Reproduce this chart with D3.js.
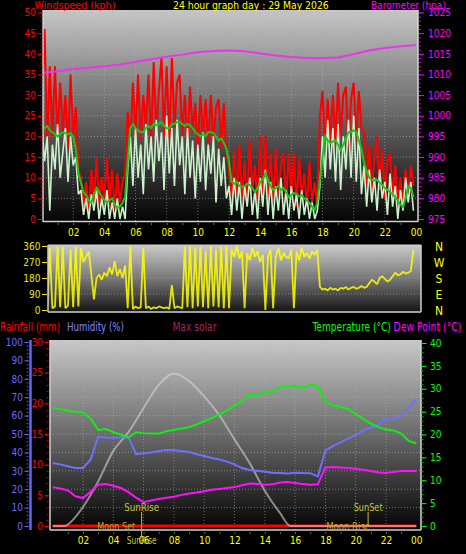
<!DOCTYPE html>
<html><head><meta charset="utf-8">
<script src="https://cdn.jsdelivr.net/npm/d3@7"></script>
<style>
html,body{margin:0;padding:0;background:#000;}
svg{display:block;}
</style></head><body>
<script>
// ---------------- DATA ----------------
const hourTicks = [2,4,6,8,10,12,14,16,18,20,22,24];
// wind samples every 10 minutes (144 samples)
const windGust = [30,46,18,37,20,37,19,33,21,30,17,35,20,27,12,
 10,3,9,2,12,4,15,3,10,5,15,3,12,2,11,4,9,11,
 26,18,33,20,35,19,30,22,35,18,38,21,31,39,20,37,19,39,22,33,35,20,30,18,32,21,28,17,30,20,29,18,30,19,27,29,17,28,16,
 12,4,17,6,18,5,14,4,19,7,13,3,20,6,20,5,16,4,17,6,13,16,4,16,5,16,3,15,5,11,3,14,4,9,3,
 25,31,17,29,19,30,18,33,20,30,32,17,29,33,19,31,22,
 21,8,18,6,15,20,7,17,5,14,16,5,13,4,10,3,12,6,13,8];
const windSpeed = [22,14,20,2,18,12,23,10,16,22,9,20,13,15,6,
 7,1,5,0,6,2,7,0,5,1,7,0,4,0,5,0,3,0,
 12,20,8,22,10,18,6,23,12,20,9,24,14,21,7,25,11,22,8,24,13,20,6,22,10,19,5,18,9,21,7,18,11,20,4,17,8,15,5,
 8,1,10,2,9,0,8,3,10,1,7,0,10,3,12,1,9,0,8,2,10,1,7,0,8,2,6,0,7,1,5,0,4,0,2,
 8,20,10,24,12,22,9,23,7,20,12,24,10,25,9,22,6,
 13,3,12,4,10,2,12,5,9,1,11,3,8,0,7,2,10,4,9,2];
const windAvg = [22.7,22,22.5,21.5,21,20.5,20,20.5,21,20.8,20.5,20.8,20,17,11,
 8.7,6.5,5.8,4.5,3.9,6,7.5,6.5,5.5,4.5,4,4.5,5,3.5,2.6,3,3.9,5.3,
 14,22,23,22,21.5,21,21,22,22.5,22,23,22.7,23,23.5,22.5,22,22,23,23,23.5,23.5,23,22.5,23,22.7,22,21,20.5,20,20.5,20,21,21,20.8,20,19,19.5,18.5,17,
 14,9,8.5,9,8,7.8,8,8.5,8.2,7.5,6.5,7.5,9,9.5,11,9.5,8,7,7.5,8,7,7.5,6.5,5.3,5.8,6.3,6,5.5,5.8,5,4.5,3.9,3,2.2,4,
 9.4,15,20,19,18.4,18.8,19,18,16.7,18,19.5,21,21,21.5,21,19,17,
 13.6,11.5,10,9.5,9.4,9.5,8.8,8.2,7.5,7,6.5,6,5.3,4.5,3.5,2.9,5,7.8,7.5,5.3];
const windDir = [20,355,15,350,10,20,358,15,355,10,25,340,15,355,20,
 350,270,300,330,200,60,180,200,170,210,190,240,200,275,190,230,180,250,
 10,358,5,20,10,15,350,10,20,5,15,10,20,15,10,15,5,140,10,20,15,10,355,15,360,10,350,20,355,15,330,10,360,20,340,15,355,10,360,
 10,340,300,360,290,330,10,320,280,350,300,330,270,310,0,300,340,10,300,350,280,320,300,290,340,10,330,280,350,300,320,290,330,310,340,
 130,115,120,110,125,115,120,110,125,120,130,115,125,130,120,125,135,
 125,130,150,170,160,145,180,190,175,160,170,190,210,195,200,215,205,210,220,340];
const baroHours = [0,1,2,3,4,5,6,7,8,9,10,11,12,13,14,15,16,17,18,19,20,21,22,23,24];
const baroValues = [1010.4,1010.8,1011.3,1011.6,1012.0,1012.4,1013.0,1013.7,1014.3,1014.8,1015.4,1015.7,1015.8,1015.6,1015.1,1014.6,1014.2,1014.0,1013.9,1014.1,1014.9,1015.8,1016.4,1016.8,1017.1];
// half-hourly samples 00:00 .. 24:00 (49 samples)
const temperature = [25.8,25.6,25.2,25.0,24.8,23.5,21.0,21.2,20.5,20.0,19.3,20.5,20.3,20.2,20.2,20.7,21.0,21.3,21.6,22.2,22.9,23.6,24.4,25.2,26.3,27.3,28.8,28.5,29.4,29.3,30.5,30.4,30.7,30.2,30.8,30.6,27.2,26.4,26.0,25.6,24.5,23.4,22.4,21.6,21.1,20.9,20.2,18.6,18.1];
const dewPoint = [8.5,8.2,7.8,6.5,6.1,7.5,9.0,9.2,8.8,8.3,7.4,6.2,5.2,5.6,5.9,6.2,6.4,6.8,7.1,7.3,7.6,7.9,8.1,8.3,8.5,8.9,9.3,9.2,9.0,9.1,9.5,9.6,9.4,9.2,9.0,9.1,12.8,12.9,12.8,12.7,12.5,12.3,12.0,11.7,11.6,11.8,12.0,12.0,12.0];
const humidity = [34.2,33.5,32.5,31.5,31.5,36,48.5,48,48,48.2,48.4,39,39.5,40,40.8,41.3,41.2,40.8,40.2,39,38,37,36.2,35,33.5,31.5,30.4,30,29.5,29,28.8,28.5,29,28.8,28.7,27,41,43.5,45.5,47.5,49.5,52,53.5,55,58.5,58,60,64,69];
const rainHours = [0,24];
const rainfall = [0,0];
const solarHours = [0,0.8,1,2,3,4,5,6,7,8,9,10,11,12,13,14,15,15.7,24];
const maxSolar = [0,0,10,124,290,490,612,770,920,995,945,845,722,565,410,230,85,0,0];
const events = [
  {label:"SunRise", hour:5.87, row:"sun"},
  {label:"SunSet", hour:20.82, row:"sun"},
  {label:"Moon Set", hour:4.2, row:"moon"},
  {label:"Moon Rise", hour:19.5, row:"moon"}
];
const dirLetters = ["N","W","S","E","N"];

// ---------------- SETUP ----------------
const FONT = '"Liberation Sans Narrow","DejaVu Sans Condensed","Liberation Sans",sans-serif';
const svg = d3.select("body").append("svg").attr("width",466).attr("height",554)
  .style("background","#000").attr("font-family",FONT);
const defs = svg.append("defs");
function grad(id,y1,y2,stops){
  const g = defs.append("linearGradient").attr("id",id).attr("gradientUnits","userSpaceOnUse")
    .attr("x1",0).attr("x2",0).attr("y1",y1).attr("y2",y2);
  stops.forEach(s=>g.append("stop").attr("offset",s[0]).attr("stop-color",s[1]));
}
function clip(id,x,y,w,h){ defs.append("clipPath").attr("id",id).append("rect").attr("x",x).attr("y",y).attr("width",w).attr("height",h); }
function styleAxis(g,color,size){
  g.attr("font-family",FONT).attr("font-size",size);
  g.select(".domain").remove();
  g.selectAll("line").attr("stroke",color);
  g.selectAll("text").attr("fill",color);
  return g;
}
// text squeezed horizontally so that its width equals the target width
function label(txt,x,y,color,width,size,anchor){
  const t = svg.append("text").attr("x",0).attr("y",0).attr("fill",color).attr("font-size",size)
    .attr("text-anchor",anchor||"start").text(txt);
  const w = t.node().getComputedTextLength();
  const sx = (width && w>0) ? width/w : 1;
  t.attr("transform",`translate(${x},${y}) scale(${sx},1)`);
  return t;
}
const dotted = {stroke:"#b4b4b4", dash:"1,2", op:0.55};
const fmtInt = d3.format("d");

// ================= CHART 1 : wind + barometer =================
const P1 = {l:43,r:418,t:10,b:221};
grad("g1",P1.t,P1.b,[[0,"#c6c6c6"],[0.5,"#666"],[1,"#050505"]]);
clip("c1",P1.l,P1.t,P1.r-P1.l,P1.b-P1.t);
const x1 = d3.scaleLinear().domain([0,24]).range([42,416]);
const yW = d3.scaleLinear().domain([0,50]).range([219,12.5]);
const yB = d3.scaleLinear().domain([975,1025]).range([219,12.5]);

svg.append("rect").attr("x",P1.l).attr("y",P1.t).attr("width",P1.r-P1.l).attr("height",P1.b-P1.t).attr("fill","url(#g1)");
const g1 = svg.append("g");
g1.selectAll(".hg").data(d3.range(5,51,5)).join("line")
  .attr("x1",P1.l).attr("x2",P1.r).attr("y1",d=>yW(d)).attr("y2",d=>yW(d))
  .attr("stroke",dotted.stroke).attr("stroke-dasharray",dotted.dash).attr("opacity",dotted.op);
g1.selectAll(".vg").data(hourTicks.slice(0,11)).join("line")
  .attr("x1",d=>x1(d)).attr("x2",d=>x1(d)).attr("y1",P1.t).attr("y2",P1.b)
  .attr("stroke",dotted.stroke).attr("stroke-dasharray",dotted.dash).attr("opacity",dotted.op);

const d1 = svg.append("g").attr("clip-path","url(#c1)");
const lineW = arr => d3.line().x((d,i)=>x1(i/6)).y(d=>yW(d))(arr);
d1.append("path").attr("d",lineW(windGust)).attr("fill","none").attr("stroke","#ff0000").attr("stroke-width",2).attr("stroke-linejoin","bevel");
d1.append("path").attr("d",lineW(windSpeed)).attr("fill","none").attr("stroke","#ccf2cc").attr("stroke-width",1.6).attr("stroke-linejoin","bevel");
d1.append("path").attr("d",lineW(windAvg)).attr("fill","none").attr("stroke","#18c818").attr("stroke-width",2);
d1.append("path").attr("d",d3.line().x((d,i)=>x1(baroHours[i])).y(d=>yB(d))(baroValues))
  .attr("fill","none").attr("stroke","#ee33ee").attr("stroke-width",2);

// borders
svg.append("line").attr("x1",P1.l).attr("x2",P1.l).attr("y1",P1.t).attr("y2",P1.b+1).attr("stroke","#d0d0d0").attr("stroke-width",1.5);
svg.append("line").attr("x1",P1.r).attr("x2",P1.r).attr("y1",P1.t).attr("y2",P1.b+1).attr("stroke","#d8d8d8").attr("stroke-width",1.5);
svg.append("line").attr("x1",P1.l).attr("x2",P1.r).attr("y1",P1.b+0.5).attr("y2",P1.b+0.5).attr("stroke","#d0d0d0").attr("stroke-width",1.5);

// axes
styleAxis(svg.append("g").attr("transform","translate(42.5,0)")
  .call(d3.axisLeft(yW).tickValues(d3.range(0,51,1)).tickSize(2).tickFormat("")),"#c00000",9);
styleAxis(svg.append("g").attr("transform","translate(42.5,0)")
  .call(d3.axisLeft(yW).tickValues(d3.range(0,51,5)).tickSize(5).tickPadding(1.5).tickFormat(fmtInt)),"#ff0000",10);
styleAxis(svg.append("g").attr("transform","translate(419,0)")
  .call(d3.axisRight(yB).tickValues(d3.range(975,1026,1)).tickSize(2).tickFormat("")),"#c000c0",9);
const rAx = styleAxis(svg.append("g").attr("transform","translate(419,0)")
  .call(d3.axisRight(yB).tickValues(d3.range(975,1026,5)).tickSize(5).tickPadding(4).tickFormat(fmtInt)),"#ff00ff",10);
styleAxis(svg.append("g").attr("transform","translate(0,223)")
  .call(d3.axisBottom(x1).tickValues(d3.range(1,24,1)).tickSize(2).tickFormat("")),"#6a6a40",9);
const hx1 = styleAxis(svg.append("g").attr("transform","translate(0,222)")
  .call(d3.axisBottom(x1).tickValues(hourTicks).tickSize(0).tickFormat(d=>d3.format("02")(d%24))),"#ffff00",10);
hx1.selectAll("text").attr("y",13.5).attr("dy",0);

// titles
label("Windspeed (kph)",34.5,9,"#ff0000",81,11);
label("24 hour graph day : 29 May 2026",173,9,"#ffff00",156,11);
label("Barometer (hpa)",371,9,"#ff00ff",75,11);

// ================= CHART 2 : wind direction =================
const P2 = {l:48,r:421,t:245,b:312};
grad("g2",P2.t,P2.b,[[0,"#cacaca"],[0.5,"#777"],[1,"#151515"]]);
clip("c2",P2.l,P2.t,P2.r-P2.l,P2.b-P2.t);
const yD = d3.scaleLinear().domain([0,360]).range([310,246]);
svg.append("rect").attr("x",P2.l).attr("y",P2.t).attr("width",P2.r-P2.l).attr("height",P2.b-P2.t).attr("fill","url(#g2)");
svg.append("g").selectAll("line").data([90,180,270]).join("line")
  .attr("x1",P2.l).attr("x2",P2.r).attr("y1",d=>yD(d)).attr("y2",d=>yD(d))
  .attr("stroke",dotted.stroke).attr("stroke-dasharray",dotted.dash).attr("opacity",dotted.op);
svg.append("g").attr("clip-path","url(#c2)").append("path")
  .attr("d",d3.line().x((d,i)=>x1(i/6)).y(d=>yD(d))(windDir))
  .attr("fill","none").attr("stroke","#ffff00").attr("stroke-opacity",0.85).attr("stroke-width",1.8).attr("stroke-linejoin","bevel");
svg.append("line").attr("x1",P2.l).attr("x2",P2.l).attr("y1",P2.t).attr("y2",P2.b).attr("stroke","#d0d0d0").attr("stroke-width",1.5);
svg.append("line").attr("x1",P2.r).attr("x2",P2.r).attr("y1",P2.t).attr("y2",P2.b).attr("stroke","#d0d0d0").attr("stroke-width",1.5);
svg.append("line").attr("x1",P2.l).attr("x2",P2.r).attr("y1",P2.b).attr("y2",P2.b).attr("stroke","#d0d0d0").attr("stroke-width",1.5);
svg.append("line").attr("x1",P2.l).attr("x2",P2.r).attr("y1",P2.t).attr("y2",P2.t).attr("stroke","#d0d0d0").attr("stroke-width",1);
styleAxis(svg.append("g").attr("transform","translate(47,0)")
  .call(d3.axisLeft(yD).tickValues([0,90,180,270,360]).tickSize(5).tickPadding(1.5).tickFormat(fmtInt)),"#e8e800",10);
svg.append("g").selectAll("text").data(dirLetters).join("text")
  .attr("x",439).attr("y",(d,i)=>yD(360-i*90)+4.5).attr("text-anchor","middle")
  .attr("fill","#ffff00").attr("font-size",12).text(d=>d);

// ================= CHART 3 : temperature etc =================
const P3 = {l:50,r:421,t:340,b:530};
grad("g3",P3.t,P3.b,[[0,"#c8c8c8"],[0.5,"#6a6a6a"],[1,"#030303"]]);
clip("c3",P3.l,P3.t,P3.r-P3.l,P3.b-P3.t);
const x3 = d3.scaleLinear().domain([0,24]).range([52.7,416.3]);
const yH = d3.scaleLinear().domain([0,100]).range([526,342]);
const yR = d3.scaleLinear().domain([0,30]).range([526,342]);
const yT = d3.scaleLinear().domain([0,40]).range([526,343]);
const yS = d3.scaleLinear().domain([0,1200]).range([526,342]);

svg.append("rect").attr("x",P3.l).attr("y",P3.t).attr("width",P3.r-P3.l).attr("height",P3.b-P3.t).attr("fill","url(#g3)");
const g3 = svg.append("g");
g3.selectAll(".hg").data(d3.range(10,100,10)).join("line")
  .attr("x1",P3.l).attr("x2",P3.r).attr("y1",d=>yH(d)).attr("y2",d=>yH(d))
  .attr("stroke",dotted.stroke).attr("stroke-dasharray",dotted.dash).attr("opacity",dotted.op);
g3.selectAll(".vg").data(hourTicks.slice(0,11)).join("line")
  .attr("x1",d=>x3(d)).attr("x2",d=>x3(d)).attr("y1",P3.t).attr("y2",P3.b)
  .attr("stroke",dotted.stroke).attr("stroke-dasharray",dotted.dash).attr("opacity",dotted.op);

const d3g = svg.append("g").attr("clip-path","url(#c3)");
d3g.append("path").attr("d",d3.line().x((d,i)=>x3(rainHours[i])).y(d=>yR(d))(rainfall))
  .attr("fill","none").attr("stroke","#ff0000").attr("stroke-width",3);
d3g.append("path").attr("d",d3.line().curve(d3.curveMonotoneX).x((d,i)=>x3(solarHours[i])).y(d=>yS(d))(maxSolar))
  .attr("fill","none").attr("stroke","#d4d4d4").attr("stroke-opacity",0.6).attr("stroke-width",2);
const line3 = (arr,y) => d3.line().x((d,i)=>x3(i/2)).y(d=>y(d))(arr);
d3g.append("path").attr("d",line3(humidity,yH)).attr("fill","none").attr("stroke","#7070ff").attr("stroke-width",2);
d3g.append("path").attr("d",line3(dewPoint,yT)).attr("fill","none").attr("stroke","#ff11ff").attr("stroke-width",2);
d3g.append("path").attr("d",line3(temperature,yT)).attr("fill","none").attr("stroke","#11ee11").attr("stroke-width",2);

svg.append("line").attr("x1",P3.l).attr("x2",P3.l).attr("y1",P3.t).attr("y2",P3.b).attr("stroke","#d0d0d0").attr("stroke-width",1.5);
svg.append("line").attr("x1",P3.r).attr("x2",P3.r).attr("y1",P3.t).attr("y2",P3.b).attr("stroke","#d8d8d8").attr("stroke-width",1.5);
svg.append("line").attr("x1",P3.l).attr("x2",P3.r).attr("y1",P3.b).attr("y2",P3.b).attr("stroke","#d0d0d0").attr("stroke-width",1.5);

// left axes
svg.append("rect").attr("x",29.3).attr("y",340).attr("width",2.4).attr("height",190).attr("fill","#6868ff");
styleAxis(svg.append("g").attr("transform","translate(28.5,0)")
  .call(d3.axisLeft(yH).tickValues(d3.range(0,101,2)).tickSize(2).tickFormat("")),"#5050d0",9);
styleAxis(svg.append("g").attr("transform","translate(28.5,0)")
  .call(d3.axisLeft(yH).tickValues(d3.range(0,101,10)).tickSize(4).tickPadding(1.5).tickFormat(fmtInt)),"#6a6aff",10);
styleAxis(svg.append("g").attr("transform","translate(48.5,0)")
  .call(d3.axisLeft(yR).tickValues(d3.range(0,31,1)).tickSize(2).tickFormat("")),"#c00000",9);
styleAxis(svg.append("g").attr("transform","translate(48.5,0)")
  .call(d3.axisLeft(yR).tickValues(d3.range(0,31,5)).tickSize(4).tickPadding(1.5).tickFormat(fmtInt)),"#ff0000",10);
styleAxis(svg.append("g").attr("transform","translate(421.5,0)")
  .call(d3.axisRight(yT).tickValues(d3.range(0,41,1)).tickSize(2).tickFormat("")),"#00b000",9);
styleAxis(svg.append("g").attr("transform","translate(421.5,0)")
  .call(d3.axisRight(yT).tickValues(d3.range(0,41,5)).tickSize(5).tickPadding(3.5).tickFormat(fmtInt)),"#00ff00",10);
styleAxis(svg.append("g").attr("transform","translate(0,532)")
  .call(d3.axisBottom(x3).tickValues(d3.range(1,24,1)).tickSize(2).tickFormat("")),"#6a6a40",9);
const hx3 = styleAxis(svg.append("g").attr("transform","translate(0,530)")
  .call(d3.axisBottom(x3).tickValues(hourTicks).tickSize(0).tickFormat(d=>d3.format("02")(d%24))),"#ffff00",10);
hx3.selectAll("text").attr("y",13.5).attr("dy",0);

// sun / moon events
const evColor = "#c4c43c";
const evWidth = {"SunRise":35,"SunSet":29,"Moon Set":38,"Moon Rise":44};
events.forEach(e=>{
  const x = x3(e.hour);
  if(e.row==="sun"){
    label(e.label,x,510.5,evColor,evWidth[e.label],11,"middle");
    svg.append("line").attr("x1",x).attr("x2",x).attr("y1",512).attr("y2",e.label==="SunRise"?536:526)
      .attr("stroke",evColor).attr("stroke-width",1);
    if(e.label==="SunRise") label(e.label,x,543.5,evColor,30,10,"middle");
  } else {
    label(e.label,x,529.5,"#b8a830",evWidth[e.label],11,"middle");
  }
});

// legend row
label("Rainfall (mm)",0,331,"#ff0000",60,11.5);
label("Humidity (%)",67,331,"#8484ff",57,11.5);
label("Max solar",172.5,331,"#a82858",44,11.5);
label("Temperature (°C)",312.5,331,"#00ff00",78.5,11.5);
label("Dew Point (°C)",393.5,331,"#ff00ff",68,11.5);
</script>
</body></html>
